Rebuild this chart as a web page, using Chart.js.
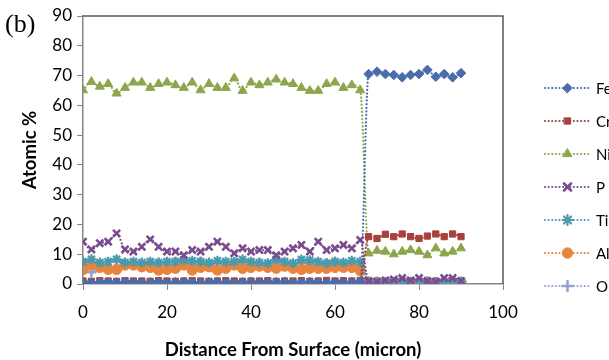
<!DOCTYPE html>
<html>
<head>
<meta charset="utf-8">
<script src="https://cdn.jsdelivr.net/npm/chart.js@4.4.1/dist/chart.umd.min.js"></script>
<style>
  html, body { margin: 0; padding: 0; background: #fff; }
  #wrap { position: relative; width: 609px; height: 360px; }
</style>
</head>
<body>
<div id="wrap"><canvas id="perfil" width="609" height="360"></canvas></div>
<script>
// Distancia desde la superficie (micron)
const distance = [0, 2, 4, 6, 8, 10, 12, 14, 16, 18, 20, 22, 24, 26, 28, 30, 32,
  34, 36, 38, 40, 42, 44, 46, 48, 50, 52, 54, 56, 58, 60, 62, 64, 66,
  68, 70, 72, 74, 76, 78, 80, 82, 84, 86, 88, 90];

// % atómico de cada elemento
const fe = [0.6, 0.5, 0.7, 0.6, 0.5, 0.7, 0.6, 0.5, 0.6, 0.7, 0.5, 0.6, 0.7, 0.6, 0.5, 0.6, 0.7,
  0.6, 0.5, 0.6, 0.7, 0.5, 0.6, 0.6, 0.7, 0.5, 0.6, 0.7, 0.6, 0.5, 0.6, 0.6, 0.7, 0.8,
  70.5, 71.3, 70.5, 70.2, 69.4, 70.2, 70.5, 71.9, 69.6, 70.5, 69.4, 70.8];
const cr = [1.0, 0.9, 1.1, 1.0, 0.9, 1.1, 1.0, 1.0, 0.9, 1.1, 1.0, 0.9, 1.0, 1.1, 1.0, 0.9, 1.0,
  1.1, 1.0, 0.9, 1.0, 1.0, 1.1, 0.9, 1.0, 1.0, 1.1, 0.9, 1.0, 1.2, 1.0, 1.1, 1.0, 1.2,
  15.9, 15.3, 16.7, 15.9, 16.8, 15.9, 15.3, 16.1, 16.8, 15.9, 16.8, 15.9];
const ni = [65.1, 67.9, 66.3, 67.2, 64.0, 65.9, 67.7, 67.7, 65.9, 67.2, 67.7, 66.8, 65.9, 67.7, 65.1, 67.2, 65.9,
  65.9, 69.1, 64.9, 67.7, 66.8, 67.7, 68.7, 67.7, 67.2, 65.9, 64.9, 64.9, 67.2, 67.7, 65.9, 66.8, 65.1,
  10.3, 11.2, 10.9, 10.0, 10.9, 11.4, 10.9, 9.7, 12.0, 10.3, 10.9, 12.0];
const p = [14.2, 11.6, 13.7, 14.2, 17.0, 11.6, 10.9, 12.5, 15.0, 12.5, 10.9, 10.9, 9.7, 11.4, 10.9, 12.5, 14.2,
  12.5, 10.3, 12.0, 10.9, 11.4, 11.4, 9.7, 10.9, 12.0, 13.1, 10.9, 14.2, 11.4, 12.0, 13.1, 12.0, 14.8,
  1.0, 0.8, 1.2, 1.5, 2.0, 1.2, 2.0, 1.0, 0.8, 2.0, 2.0, 1.0];
const ti = [7.5, 8.3, 7.2, 7.5, 8.3, 7.2, 7.5, 7.2, 7.5, 7.2, 7.5, 7.5, 8.0, 7.8, 7.5, 7.2, 7.8,
  7.5, 7.5, 8.2, 7.5, 7.2, 7.0, 8.2, 7.5, 7.0, 8.2, 8.0, 7.5, 7.0, 7.5, 7.2, 7.8, 7.5,
  0.8, 0.6, 0.7, 0.6, 0.8, 0.7, 0.6, 0.8, 0.7, 0.6, 0.7, 0.8];
const al = [4.9, 6.4, 5.6, 4.9, 4.9, 6.4, 6.4, 5.8, 5.6, 4.7, 4.9, 5.3, 6.4, 4.7, 5.6, 5.8, 4.7,
  5.3, 6.4, 5.3, 5.6, 6.0, 5.6, 5.3, 6.0, 5.3, 4.9, 5.3, 5.3, 5.3, 5.6, 5.6, 5.6, 4.5,
  0.5, 0.6, 0.4, 0.5, 0.6, 0.5, 0.4, 0.6, 0.5, 0.5, 0.6, 0.5];
const o = [6.5, 4.0, 6.0, 5.5, 5.5, 7.0, 6.5, 6.5, 6.0, 7.0, 7.0, 7.5, 7.0, 6.5, 7.5, 6.5, 7.0,
  6.5, 7.0, 7.5, 6.5, 7.0, 6.5, 7.5, 7.0, 6.5, 7.0, 7.5, 6.5, 7.0, 7.5, 6.5, 7.0, 6.0,
  0.4, 0.5, 0.3, 0.5, 0.4, 0.6, 0.4, 0.5, 0.3, 0.5, 0.4, 0.5];

// Etiquetas de los ejes
const xTicks = [0, 20, 40, 60, 80, 100];
const yTicks = [0, 10, 20, 30, 40, 50, 60, 70, 80, 90];

const series = [
  { label: 'Fe', values: fe, color: '#4A6DAA', shape: 'rectRot', r: 4.8, bw: 1 },
  { label: 'Cr', values: cr, color: '#A8403C', shape: 'rect', r: 4.4, bw: 1 },
  { label: 'Ni', values: ni, color: '#8DA64B', shape: 'triangle', r: 5.2, bw: 1 },
  { label: 'P', values: p, color: '#7B4B8F', shape: 'crossRot', r: 5, bw: 2.6 },
  { label: 'Ti', values: ti, color: '#4A9AAE', shape: 'star', r: 5, bw: 2.2 },
  { label: 'Al', values: al, color: '#E8843C', shape: 'circle', r: 5.2, bw: 1 },
  { label: 'O', values: o, color: '#9AA1D0', shape: 'cross', r: 5, bw: 2.6 }
];

const datasets = series.map(s => ({
  label: s.label,
  data: distance.map((d, i) => ({ x: d, y: s.values[i] })),
  showLine: true,
  borderColor: s.color,
  backgroundColor: s.color,
  borderWidth: 2.2,
  borderDash: [0.01, 3.6],
  borderCapStyle: 'round',
  cubicInterpolationMode: 'monotone',
  pointStyle: s.shape,
  pointRadius: s.r,
  pointBorderWidth: s.bw,
  pointBorderColor: s.color,
  pointBackgroundColor: s.color
}));

// Leyenda al estilo Excel, rótulos de ejes y marco del área de trazado
const decoPlugin = {
  id: 'decoracion',
  beforeDatasetsDraw(chart) {
    const a = chart.chartArea;
    const ctx = chart.ctx;
    ctx.save();
    ctx.strokeStyle = '#5a5a5a';
    ctx.lineWidth = 1.5;
    ctx.beginPath();
    ctx.moveTo(a.left, a.top);
    ctx.lineTo(a.right, a.top);
    ctx.lineTo(a.right, a.bottom);
    ctx.stroke();
    ctx.restore();
  },
  afterDraw(chart) {
    const ctx = chart.ctx;
    const a = chart.chartArea;
    const x0 = 545, x1 = 590, top = 88, step = 33;
    ctx.save();
    series.forEach((s, i) => {
      const y = top + i * step;
      ctx.strokeStyle = s.color;
      ctx.lineWidth = 2.2;
      ctx.lineCap = 'round';
      ctx.setLineDash([0.01, 3.6]);
      ctx.beginPath();
      ctx.moveTo(x0, y);
      ctx.lineTo(x1, y);
      ctx.stroke();
      ctx.setLineDash([]);
      ctx.fillStyle = s.color;
      ctx.lineWidth = s.bw;
      Chart.helpers.drawPoint(ctx, { pointStyle: s.shape, radius: s.r, borderWidth: s.bw }, (x0 + x1) / 2, y);
      ctx.fillStyle = '#000';
      ctx.font = '15px Lato';
      ctx.textBaseline = 'middle';
      ctx.textAlign = 'left';
      ctx.fillText(s.label, x1 + 6, y + 1);
    });

    // títulos de los ejes
    ctx.fillStyle = '#000';
    ctx.font = 'bold 18.5px Lato';
    ctx.textAlign = 'center';
    ctx.textBaseline = 'middle';
    ctx.fillText('Distance From Surface (micron)', 293, 350);
    ctx.save();
    ctx.translate(30, (a.top + a.bottom) / 2);
    ctx.rotate(-Math.PI / 2);
    ctx.fillText('Atomic %', 0, 0);
    ctx.restore();

    // rótulo del panel
    ctx.textAlign = 'left';
    ctx.font = '26px "Liberation Serif"';
    ctx.fillText('(b)', 5, 25);
    ctx.restore();
  }
};

new Chart(document.getElementById('perfil'), {
  type: 'scatter',
  data: { datasets },
  plugins: [decoPlugin],
  options: {
    responsive: false,
    animation: false,
    layout: { padding: { left: 0, right: 106, top: 16, bottom: 0 } },
    plugins: { legend: { display: false }, tooltip: { enabled: false } },
    scales: {
      x: {
        type: 'linear',
        min: 0,
        max: 100,
        afterBuildTicks: axis => { axis.ticks = xTicks.map(v => ({ value: v })); },
        grid: { display: true, drawOnChartArea: false, tickLength: 6, color: '#868686' },
        border: { color: '#868686', width: 1.5 },
        ticks: { color: '#000', font: { family: 'Lato', size: 17 }, padding: 12 },
        afterFit: axis => { axis.height = 76; }
      },
      y: {
        min: 0,
        max: 90,
        afterBuildTicks: axis => { axis.ticks = yTicks.map(v => ({ value: v })); },
        grid: { display: true, drawOnChartArea: false, tickLength: 6, color: '#868686' },
        border: { color: '#868686', width: 1.5 },
        ticks: { color: '#000', font: { family: 'Lato', size: 17 }, padding: 5 },
        afterFit: axis => { axis.width = 83; }
      }
    }
  }
});
</script>
</body>
</html>
